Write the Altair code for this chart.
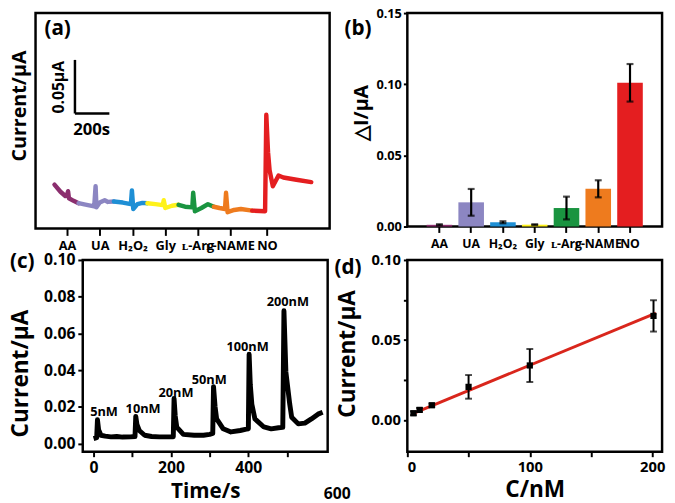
import altair as alt
import pandas as pd

FONT = "Open Sans"

# ---------------- panel (a): amperometric trace with interferents ----------------
a_names = ["AA", "UA", "H₂O₂", "Gly", "ʟ-Arg", "ʟ-NAME", "NO"]
a_colors = ["#8B2E6E", "#8C86C2", "#1E8FD5", "#FFF21A", "#1A9440", "#EE7B1E", "#E41E20"]
a_tick_t = [183, 373, 564, 754, 941, 1130, 1345]

aa_t = [110, 145, 173, 183, 189, 194, 221, 250]
aa_i = [0.0409, 0.0343, 0.0303, 0.0312, 0.0348, 0.0282, 0.0258, 0.0236]
ua_t = [250, 297, 341, 349, 354, 373, 402, 421, 455]
ua_i = [0.0236, 0.0221, 0.0206, 0.0394, 0.0197, 0.0242, 0.0264, 0.0248, 0.0252]
h2o2_t = [455, 507, 554, 560, 568, 592, 621, 650]
h2o2_i = [0.0252, 0.0242, 0.0227, 0.0355, 0.0182, 0.0227, 0.0239, 0.0236]
gly_t = [650, 697, 739, 745, 754, 793, 831]
gly_i = [0.0236, 0.0227, 0.0218, 0.0264, 0.0191, 0.0212, 0.0221]
arg_t = [831, 869, 911, 916, 926, 964, 1002, 1036]
arg_i = [0.0221, 0.0203, 0.0197, 0.0333, 0.0161, 0.0191, 0.0227, 0.0203]
name_t = [1036, 1069, 1101, 1107, 1116, 1154, 1193, 1259]
name_i = [0.0203, 0.0191, 0.0182, 0.0333, 0.0152, 0.0173, 0.0182, 0.0167]
no_t = [1259, 1334, 1341, 1351, 1360, 1379, 1412, 1440, 1516, 1602]
no_i = [0.0167, 0.0161, 0.1061, 0.0712, 0.0545, 0.0394, 0.0494, 0.0476, 0.0455, 0.0433]

# scale bar (0.05 uA x 200 s) in data units of panel (a)
bar_t = [229, 429]
bar_i = [0.1073, 0.1573]

# ---------------- panel (b): selectivity bars ----------------
b_names = ["AA", "UA", "H₂O₂", "Gly", "ʟ-Arg", "ʟ-NAME", "NO"]
b_colors = ["#9C2F70", "#8E88C0", "#1E90D8", "#FAF01C", "#1C9640", "#EE7A1E", "#FF1F1F"]
b_vals = [0.0012, 0.0170, 0.0030, 0.0013, 0.0130, 0.0265, 0.1010]
b_errs = [0.0004, 0.0094, 0.0007, 0.0003, 0.0080, 0.0060, 0.0132]

# ---------------- panel (c): response to NO additions ----------------
c_t = [0, 8, 10, 13, 19, 30, 45, 60, 75, 95, 107, 109, 112, 118, 132, 150, 170, 189,
       206, 208, 211, 215, 232, 260, 284, 300, 308, 310, 314, 318, 335, 355, 379, 395,
       400, 402, 405, 409, 417, 440, 459, 478, 489, 492, 497, 507, 512, 529, 546, 563,
       580, 592]
c_i = [0.0027, 0.0032, 0.0129, 0.0075, 0.0045, 0.0040, 0.0036, 0.0038, 0.0035, 0.0036,
       0.0038, 0.0148, 0.0105, 0.0071, 0.0045, 0.0038, 0.0036, 0.0036,
       0.0037, 0.0245, 0.0150, 0.0089, 0.0050, 0.0045, 0.0045, 0.0050, 0.0055, 0.0310,
       0.0200, 0.0134, 0.0080, 0.0063, 0.0071, 0.0078,
       0.0080, 0.0486, 0.0320, 0.0214, 0.0134, 0.0090, 0.0080, 0.0086, 0.0088, 0.0723,
       0.0390, 0.0214, 0.0143, 0.0107, 0.0111, 0.0134,
       0.0160, 0.0170]
c_lab = ["5nM", "10nM", "20nM", "50nM", "100nM", "200nM"]
c_lab_t = [27, 128, 213, 299, 398, 502]
c_lab_i = [0.0173, 0.0188, 0.0273, 0.0343, 0.0527, 0.0771]

# ---------------- panel (d): calibration ----------------
d_c = [5, 10, 20, 50, 100, 201]
d_i = [0.0041, 0.0062, 0.0091, 0.0206, 0.0340, 0.0650]
d_err = [0.0012, 0.0012, 0.0010, 0.0074, 0.0103, 0.0098]
fit_c = [5, 203]
fit_i = [0.0040, 0.0668]


def txt(**kw):
    base = dict(font=FONT, fontWeight="bold", color="black")
    base.update(kw)
    return base


# ================= panel (a) =================
rows = []
for n, ts, vs in zip(a_names, [aa_t, ua_t, h2o2_t, gly_t, arg_t, name_t, no_t],
                     [aa_i, ua_i, h2o2_i, gly_i, arg_i, name_i, no_i]):
    for t, v in zip(ts, vs):
        rows.append({"seg": n, "t": t, "i": v})
a_df = pd.DataFrame(rows)

a_sx = alt.Scale(domain=[0, 1709], nice=False, zero=False)
a_sy = alt.Scale(domain=[0, 0.201], nice=False)
a_label_expr = "".join(f"datum.value == {t} ? '{n}' : " for t, n in zip(a_tick_t, a_names)) + "''"
a_ax = alt.Axis(values=a_tick_t, labelExpr=a_label_expr, title=None, tickSize=7,
                labelFontSize=13, labelPadding=4, labelAngle=0, labelOverlap=False)
a_ay = alt.Axis(title="Current/μA", labels=False, ticks=False, titleFontSize=20,
                titleX=-6, titleY=94, titleAlign="center", titleAngle=270, titleBaseline="bottom")

a_line = alt.Chart(a_df).mark_line(strokeWidth=4.5, strokeJoin="round", strokeCap="round").encode(
    x=alt.X("t:Q", scale=a_sx, axis=a_ax),
    y=alt.Y("i:Q", scale=a_sy, axis=a_ay),
    color=alt.Color("seg:N", scale=alt.Scale(domain=a_names, range=a_colors), legend=None),
)
sb_df = pd.DataFrame({"x": [bar_t[0], bar_t[0]], "x2": [bar_t[0], bar_t[1]],
                      "y": [bar_i[0], bar_i[0]], "y2": [bar_i[1], bar_i[0]]})
a_bar = alt.Chart(sb_df).mark_rule(strokeWidth=2.5, color="black").encode(
    x=alt.X("x:Q", scale=a_sx, axis=a_ax), x2="x2:Q",
    y=alt.Y("y:Q", scale=a_sy, axis=a_ay), y2="y2:Q")
a_t1 = alt.Chart(pd.DataFrame({"t": [137], "i": [0.1318], "s": ["0.05μA"]})).mark_text(
    **txt(fontSize=16, angle=270, baseline="middle", align="center")).encode(
    x=alt.X("t:Q", scale=a_sx, axis=a_ax), y=alt.Y("i:Q", scale=a_sy, axis=a_ay), text="s:N")
a_t2 = alt.Chart(pd.DataFrame({"t": [326], "i": [0.0918], "s": ["200s"]})).mark_text(
    **txt(fontSize=17, baseline="middle", align="center")).encode(
    x=alt.X("t:Q", scale=a_sx, axis=a_ax), y=alt.Y("i:Q", scale=a_sy, axis=a_ay), text="s:N")
a_letter = alt.Chart(pd.DataFrame({"s": ["(a)"]})).mark_text(
    **txt(fontSize=21, align="left", baseline="middle")).encode(
    x=alt.value(9), y=alt.value(16), text="s:N")
panel_a = alt.layer(a_line, a_bar, a_t1, a_t2, a_letter).properties(width=299, height=219)

# ================= panel (b) =================
b_df = pd.DataFrame({"cat": b_names, "v": b_vals, "err": b_errs})
b_df["lo"] = b_df["v"] - b_df["err"]
b_df["hi"] = b_df["v"] + b_df["err"]
b_sx = alt.Scale(domain=b_names, paddingInner=0.195, paddingOuter=0.607)
b_ax = alt.Axis(title=None, labelAngle=0, tickSize=6, labelFontSize=12.5, labelPadding=5,
                labelOverlap=False)
b_sy = alt.Scale(domain=[0, 0.15], nice=False)
b_ay = alt.Axis(values=[0, 0.05, 0.10, 0.15], format=".2f", title="△I/μA", titleFontSize=20,
                labelFontSize=13, tickSize=4, labelPadding=2,
                titleX=-36, titleY=101, titleAlign="center", titleAngle=270, titleBaseline="bottom")
b_x = alt.X("cat:N", sort=b_names, scale=b_sx, axis=b_ax)
b_bars = alt.Chart(b_df).mark_bar().encode(
    x=b_x, y=alt.Y("v:Q", scale=b_sy, axis=b_ay),
    color=alt.Color("cat:N", scale=alt.Scale(domain=b_names, range=b_colors), legend=None))
b_rules = alt.Chart(b_df).mark_rule(strokeWidth=2.2, color="black").encode(
    x=b_x, y=alt.Y("lo:Q", scale=b_sy, axis=b_ay), y2="hi:Q")
b_cap1 = alt.Chart(b_df).mark_tick(thickness=2.2, size=7, color="black", orient="horizontal").encode(
    x=b_x, y=alt.Y("hi:Q", scale=b_sy, axis=b_ay))
b_cap2 = alt.Chart(b_df).mark_tick(thickness=2.2, size=7, color="black", orient="horizontal").encode(
    x=b_x, y=alt.Y("lo:Q", scale=b_sy, axis=b_ay))
b_letter = alt.Chart(pd.DataFrame({"s": ["(b)"]})).mark_text(
    **txt(fontSize=21, align="left", baseline="middle")).encode(
    x=alt.value(-64), y=alt.value(16), text="s:N")
panel_b = alt.layer(b_bars, b_rules, b_cap1, b_cap2, b_letter).properties(width=259, height=217)

# ================= panel (c) =================
c_df = pd.DataFrame({"t": c_t, "i": c_i})
c_sx = alt.Scale(domain=[-28, 605], nice=False, zero=False)
c_sy = alt.Scale(domain=[-0.0045, 0.10], nice=False, zero=False)
c_ax = alt.Axis(values=[0, 100, 200, 300, 400, 500],
                labelExpr="datum.value % 200 == 0 ? format(datum.value, 'd') : ''",
                title="Time/s", titleFontSize=21, labelFontSize=16, tickSize=5,
                labelPadding=3, titlePadding=5)
c_ay = alt.Axis(values=[0, 0.02, 0.04, 0.06, 0.08, 0.10], format=".2f", title="Current/μA",
                titleFontSize=23, labelFontSize=16, tickSize=5, labelPadding=3,
                titleX=-51, titleY=115, titleAlign="center", titleAngle=270, titleBaseline="bottom")
c_line = alt.Chart(c_df).mark_line(strokeWidth=5, color="black", strokeJoin="round").encode(
    x=alt.X("t:Q", scale=c_sx, axis=c_ax), y=alt.Y("i:Q", scale=c_sy, axis=c_ay))
c_labels = alt.Chart(pd.DataFrame({"t": c_lab_t, "i": c_lab_i, "s": c_lab})).mark_text(
    **txt(fontSize=13, baseline="middle", align="center")).encode(
    x=alt.X("t:Q", scale=c_sx, axis=c_ax), y=alt.Y("i:Q", scale=c_sy, axis=c_ay), text="s:N")
c_600 = alt.Chart(pd.DataFrame({"t": [630], "i": [-0.0275], "s": ["600"]})).mark_text(
    **txt(fontSize=16, baseline="middle", align="center")).encode(
    x=alt.X("t:Q", scale=c_sx, axis=c_ax), y=alt.Y("i:Q", scale=c_sy, axis=c_ay), text="s:N")
c_letter = alt.Chart(pd.DataFrame({"s": ["(c)"]})).mark_text(
    **txt(fontSize=21, align="left", baseline="middle")).encode(
    x=alt.value(-74), y=alt.value(2.5), text="s:N")
panel_c = alt.layer(c_line, c_labels, c_600, c_letter).properties(width=249, height=195)

# ================= panel (d) =================
d_df = pd.DataFrame({"c": d_c, "i": d_i, "err": d_err})
d_df["lo"] = d_df["i"] - d_df["err"]
d_df["hi"] = d_df["i"] + d_df["err"]
d_sx = alt.Scale(domain=[0, 208], nice=False)
d_sy = alt.Scale(domain=[-0.02, 0.10], nice=False, zero=False)
d_ax = alt.Axis(values=[0, 50, 100, 150, 200],
                labelExpr="datum.value % 100 == 0 ? format(datum.value, 'd') : ''",
                title="C/nM", titleFontSize=23, labelFontSize=15, tickSize=5,
                labelPadding=3, titlePadding=4)
d_ay = alt.Axis(values=[0, 0.025, 0.05, 0.075, 0.10],
                labelExpr="indexof([0, 0.05, 0.1], datum.value) >= 0 ? format(datum.value, '.2f') : ''",
                title="Current/μA", titleFontSize=23, labelFontSize=15, tickSize=4,
                labelPadding=3,
                titleX=-49, titleY=95, titleAlign="center", titleAngle=270, titleBaseline="bottom")
d_fit = alt.Chart(pd.DataFrame({"c": fit_c, "i": fit_i})).mark_line(
    strokeWidth=3, color="#D9261C").encode(
    x=alt.X("c:Q", scale=d_sx, axis=d_ax), y=alt.Y("i:Q", scale=d_sy, axis=d_ay))
d_rules = alt.Chart(d_df).mark_rule(strokeWidth=2, color="black").encode(
    x=alt.X("c:Q", scale=d_sx, axis=d_ax), y=alt.Y("lo:Q", scale=d_sy, axis=d_ay), y2="hi:Q")
d_cap1 = alt.Chart(d_df).mark_tick(thickness=2, size=7, color="black", orient="horizontal").encode(
    x=alt.X("c:Q", scale=d_sx, axis=d_ax), y=alt.Y("hi:Q", scale=d_sy, axis=d_ay))
d_cap2 = alt.Chart(d_df).mark_tick(thickness=2, size=7, color="black", orient="horizontal").encode(
    x=alt.X("c:Q", scale=d_sx, axis=d_ax), y=alt.Y("lo:Q", scale=d_sy, axis=d_ay))
d_pts = alt.Chart(d_df).mark_square(size=40, color="black", opacity=1).encode(
    x=alt.X("c:Q", scale=d_sx, axis=d_ax), y=alt.Y("i:Q", scale=d_sy, axis=d_ay))
d_letter = alt.Chart(pd.DataFrame({"s": ["(d)"]})).mark_text(
    **txt(fontSize=21, align="left", baseline="middle")).encode(
    x=alt.value(-74), y=alt.value(8.5), text="s:N")
panel_d = alt.layer(d_fit, d_rules, d_cap1, d_cap2, d_pts, d_letter).properties(width=259, height=195)

# empty spacer that shifts the lower row's frames to the right of the upper row's
spacer = alt.Chart(pd.DataFrame({"z": [0]})).mark_point(opacity=0).encode(
    x=alt.value(0), y=alt.value(0)
).properties(width=48, height=10, view=alt.ViewBackground(stroke="transparent"))

row1 = alt.hconcat(panel_a, panel_b, spacing=79, bounds="flush")
row2_inner = alt.hconcat(panel_c, panel_d, spacing=81, bounds="flush")
row2 = alt.hconcat(spacer, row2_inner, spacing=0, bounds="flush")

chart = alt.vconcat(row1, row2, spacing=-4).properties(
    padding={"left": 0, "top": -7, "right": 0, "bottom": 0},
    background="white",
).configure_axis(
    domain=False, grid=False, tickColor="black", tickWidth=2,
    labelColor="black", titleColor="black", labelFont=FONT, titleFont=FONT,
    labelFontWeight="bold", titleFontWeight="bold",
).configure_view(stroke="black", strokeWidth=2.5)

chart.save("out.html", embed_options={"renderer": "svg", "actions": False})
